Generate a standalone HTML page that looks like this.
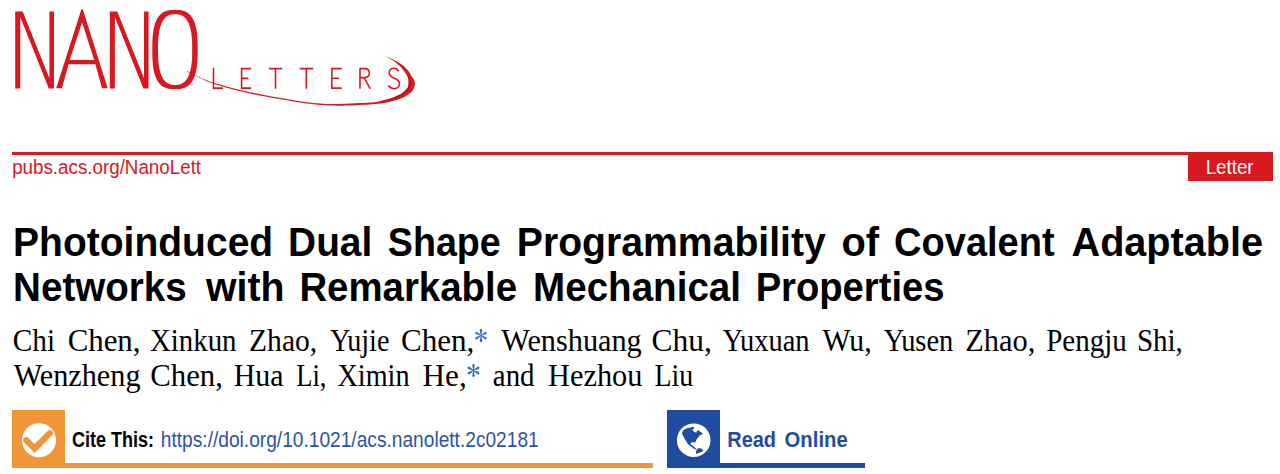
<!DOCTYPE html>
<html><head><meta charset="utf-8">
<style>
html,body{margin:0;padding:0;background:#fff;width:1280px;height:474px;overflow:hidden}
svg{position:absolute;left:0;top:0}
</style></head><body>
<svg width="1280" height="474" viewBox="0 0 1280 474">
<g fill="#d71920">
<path d="M15.2 11.6H22.7L49.4 78.2V11.6H54V88.4H48.8L20.3 17.3V88.4H15.2Z"/>
<path d="M109.8 11.6H117.3L144 78.2V11.6H148.6V88.4H143.4L114.9 17.3V88.4H109.8Z"/>
<path fill-rule="evenodd" d="M56.2 88.2L81.4 9.3H82.8L107.7 88.2H102L95.4 64.2H68.6L61.9 88.2Z M69.7 60H94.2L82.1 22.6Z"/>
<path fill-rule="evenodd" d="M197.70 49.50 L197.69 53.42 L197.65 55.93 L197.59 58.08 L197.50 60.02 L197.39 61.82 L197.25 63.51 L197.09 65.10 L196.90 66.62 L196.69 68.06 L196.45 69.44 L196.19 70.76 L195.90 72.03 L195.59 73.24 L195.26 74.41 L194.90 75.52 L194.51 76.59 L194.10 77.62 L193.67 78.59 L193.21 79.53 L192.72 80.42 L192.21 81.26 L191.68 82.06 L191.12 82.82 L190.53 83.54 L189.92 84.21 L189.28 84.84 L188.61 85.42 L187.91 85.97 L187.19 86.47 L186.43 86.92 L185.64 87.34 L184.81 87.71 L183.94 88.03 L183.03 88.32 L182.06 88.55 L181.03 88.75 L179.92 88.90 L178.69 89.01 L177.25 89.08 L175.00 89.10 L172.75 89.08 L171.31 89.01 L170.08 88.90 L168.97 88.75 L167.94 88.55 L166.97 88.32 L166.06 88.03 L165.19 87.71 L164.36 87.34 L163.57 86.92 L162.81 86.47 L162.09 85.97 L161.39 85.42 L160.72 84.84 L160.08 84.21 L159.47 83.54 L158.88 82.82 L158.32 82.06 L157.79 81.26 L157.28 80.42 L156.79 79.53 L156.33 78.59 L155.90 77.62 L155.49 76.59 L155.10 75.52 L154.74 74.41 L154.41 73.24 L154.10 72.03 L153.81 70.76 L153.55 69.44 L153.31 68.06 L153.10 66.62 L152.91 65.10 L152.75 63.51 L152.61 61.82 L152.50 60.02 L152.41 58.08 L152.35 55.93 L152.31 53.42 L152.30 49.50 L152.31 45.58 L152.35 43.07 L152.41 40.92 L152.50 38.98 L152.61 37.18 L152.75 35.49 L152.91 33.90 L153.10 32.38 L153.31 30.94 L153.55 29.56 L153.81 28.24 L154.10 26.97 L154.41 25.76 L154.74 24.59 L155.10 23.48 L155.49 22.41 L155.90 21.38 L156.33 20.41 L156.79 19.47 L157.28 18.58 L157.79 17.74 L158.32 16.94 L158.88 16.18 L159.47 15.46 L160.08 14.79 L160.72 14.16 L161.39 13.58 L162.09 13.03 L162.81 12.53 L163.57 12.08 L164.36 11.66 L165.19 11.29 L166.06 10.97 L166.97 10.68 L167.94 10.45 L168.97 10.25 L170.08 10.10 L171.31 9.99 L172.75 9.92 L175.00 9.90 L177.25 9.92 L178.69 9.99 L179.92 10.10 L181.03 10.25 L182.06 10.45 L183.03 10.68 L183.94 10.97 L184.81 11.29 L185.64 11.66 L186.43 12.08 L187.19 12.53 L187.91 13.03 L188.61 13.58 L189.28 14.16 L189.92 14.79 L190.53 15.46 L191.12 16.18 L191.68 16.94 L192.21 17.74 L192.72 18.58 L193.21 19.47 L193.67 20.41 L194.10 21.38 L194.51 22.41 L194.90 23.48 L195.26 24.59 L195.59 25.76 L195.90 26.97 L196.19 28.24 L196.45 29.56 L196.69 30.94 L196.90 32.38 L197.09 33.90 L197.25 35.49 L197.39 37.18 L197.50 38.98 L197.59 40.92 L197.65 43.07 L197.69 45.58Z M192.20 49.55 L192.19 52.48 L192.16 54.54 L192.11 56.36 L192.04 58.03 L191.95 59.61 L191.84 61.09 L191.70 62.51 L191.55 63.87 L191.38 65.18 L191.19 66.43 L190.98 67.64 L190.75 68.81 L190.50 69.93 L190.23 71.01 L189.94 72.04 L189.63 73.04 L189.30 74.00 L188.95 74.91 L188.58 75.79 L188.20 76.63 L187.79 77.43 L187.37 78.18 L186.93 78.90 L186.46 79.58 L185.98 80.22 L185.48 80.82 L184.96 81.38 L184.42 81.90 L183.85 82.37 L183.27 82.81 L182.66 83.21 L182.03 83.56 L181.37 83.87 L180.68 84.15 L179.96 84.38 L179.20 84.56 L178.39 84.71 L177.51 84.82 L176.52 84.88 L175.10 84.90 L173.68 84.88 L172.69 84.82 L171.81 84.71 L171.00 84.56 L170.24 84.38 L169.52 84.15 L168.83 83.87 L168.17 83.56 L167.54 83.21 L166.93 82.81 L166.35 82.37 L165.78 81.90 L165.24 81.38 L164.72 80.82 L164.22 80.22 L163.74 79.58 L163.27 78.90 L162.83 78.18 L162.41 77.43 L162.00 76.63 L161.62 75.79 L161.25 74.91 L160.90 74.00 L160.57 73.04 L160.26 72.04 L159.97 71.01 L159.70 69.93 L159.45 68.81 L159.22 67.64 L159.01 66.43 L158.82 65.18 L158.65 63.87 L158.50 62.51 L158.36 61.09 L158.25 59.61 L158.16 58.03 L158.09 56.36 L158.04 54.54 L158.01 52.48 L158.00 49.55 L158.01 46.62 L158.04 44.56 L158.09 42.74 L158.16 41.07 L158.25 39.49 L158.36 38.01 L158.50 36.59 L158.65 35.23 L158.82 33.92 L159.01 32.67 L159.22 31.46 L159.45 30.29 L159.70 29.17 L159.97 28.09 L160.26 27.06 L160.57 26.06 L160.90 25.10 L161.25 24.19 L161.62 23.31 L162.00 22.47 L162.41 21.67 L162.83 20.92 L163.27 20.20 L163.74 19.52 L164.22 18.88 L164.72 18.28 L165.24 17.72 L165.78 17.20 L166.35 16.73 L166.93 16.29 L167.54 15.89 L168.17 15.54 L168.83 15.23 L169.52 14.95 L170.24 14.72 L171.00 14.54 L171.81 14.39 L172.69 14.28 L173.68 14.22 L175.10 14.20 L176.52 14.22 L177.51 14.28 L178.39 14.39 L179.20 14.54 L179.96 14.72 L180.68 14.95 L181.37 15.23 L182.03 15.54 L182.66 15.89 L183.27 16.29 L183.85 16.73 L184.42 17.20 L184.96 17.72 L185.48 18.28 L185.98 18.88 L186.46 19.52 L186.93 20.20 L187.37 20.92 L187.79 21.67 L188.20 22.47 L188.58 23.31 L188.95 24.19 L189.30 25.10 L189.63 26.06 L189.94 27.06 L190.23 28.09 L190.50 29.17 L190.75 30.29 L190.98 31.46 L191.19 32.67 L191.38 33.92 L191.55 35.23 L191.70 36.59 L191.84 38.01 L191.95 39.49 L192.04 41.07 L192.11 42.74 L192.16 44.56 L192.19 46.62Z"/>
<path d="M186.5 71.2 C187.9 71.9 190.6 73.5 195.0 75.6 C199.4 77.6 203.8 80.5 213.0 83.5 C222.2 86.5 235.5 90.3 250.0 93.5 C264.5 96.7 286.7 100.6 300.0 102.6 C313.3 104.6 320.8 105.2 330.0 105.6 C339.2 106.0 348.6 105.4 355.3 105.2 C362.0 105.0 365.8 104.9 370.0 104.6 C374.2 104.3 377.0 104.0 380.5 103.5 C384.0 103.0 387.6 102.3 391.1 101.4 C394.6 100.5 398.6 99.4 401.6 98.2 C404.6 97.0 407.1 95.4 409.0 94.0 C410.9 92.6 412.2 91.4 413.2 89.8 C414.2 88.2 414.6 86.1 414.8 84.5 C415.0 82.9 414.9 81.7 414.3 80.3 C413.8 78.9 412.5 77.6 411.5 76.0 C410.5 74.4 409.8 72.6 408.3 70.8 C406.8 69.0 404.8 66.8 402.3 64.9 C399.8 63.0 396.0 60.9 393.2 59.5 C390.4 58.1 386.6 56.8 385.3 56.3 L385.3 56.3 C386.6 57.0 390.5 58.9 393.0 60.6 C395.5 62.3 398.2 64.6 400.2 66.6 C402.2 68.5 403.5 70.5 404.8 72.3 C406.1 74.1 407.3 76.0 407.9 77.5 C408.5 79.0 408.5 79.9 408.5 81.4 C408.5 82.9 408.6 85.0 408.0 86.6 C407.4 88.2 406.4 89.5 404.8 90.9 C403.2 92.3 401.1 93.8 398.5 95.1 C395.9 96.4 392.4 97.8 389.0 98.8 C385.6 99.8 381.6 100.8 378.4 101.4 C375.2 102.0 373.9 102.2 370.0 102.5 C366.1 102.8 362.0 103.0 355.3 103.3 C348.6 103.5 339.2 104.3 330.0 104.0 C320.8 103.7 313.3 103.2 300.0 101.2 C286.7 99.2 264.5 95.3 250.0 92.2 C235.5 89.1 222.2 85.3 213.0 82.4 C203.8 79.5 199.4 76.8 195.0 74.9 C190.6 73.0 187.9 71.5 186.5 70.8 Z"/>
<path fill="#a81a20" d="M405.7 71.6 C406.3 72.5 408.5 75.4 409.3 77.0 C410.2 78.6 410.6 79.6 410.7 81.4 C410.8 83.1 410.9 85.6 410.1 87.4 C409.4 89.3 408.1 91.0 406.3 92.5 C404.5 94.1 402.2 95.6 399.3 96.8 C396.5 98.0 392.6 99.2 389.4 100.0 C386.2 100.8 381.7 101.4 380.1 101.7 L380.1 101.5 C381.6 101.1 386.0 100.1 389.1 99.1 C392.2 98.1 396.0 96.7 398.6 95.4 C401.3 94.0 403.4 92.6 405.0 91.1 C406.6 89.7 407.6 88.3 408.3 86.7 C408.9 85.1 408.8 82.9 408.8 81.4 C408.8 79.8 408.7 79.0 408.2 77.4 C407.6 75.8 405.9 72.6 405.5 71.7Z"/>
</g>
<g fill="none" stroke="#d71920" stroke-width="1.6">
<path d="M213.5 67.8V88.1H223.1"/>
<path d="M251.1 68.6H241.6V88.1H251.2 M241.6 78.4H248.4"/>
<path d="M268.9 68.6H282.2 M275.5 68.6V88.8"/>
<path d="M299.7 68.6H313.2 M306.3 68.6V88.8"/>
<path d="M341.8 68.6H331.9V88.1H341.8 M331.9 78.2H339"/>
<path d="M360 88.8V68.6H364.3C367.5 68.6 369.4 70.5 369.4 73.1C369.4 75.8 367.5 77.6 364.3 77.6H360 M364 77.6L370.3 88.8"/>
<path d="M398.6 71.3C397.5 69.3 396 68.3 393.9 68.3C391 68.3 389.2 70.3 389.2 73C389.2 79 399.5 77.5 399.5 83.5C399.5 86.6 397.3 88.7 394.1 88.7C391.6 88.7 389.7 87.4 388.5 85.3"/>
</g>
<rect x="12" y="152" width="1261" height="3" fill="#d71920"/>
<path d="M1188 152H1271A2 2 0 0 1 1273 154V181H1188Z" fill="#d71920"/>
<rect x="12" y="410" width="53" height="58" fill="#ef9639"/>
<rect x="12" y="463" width="641" height="5" fill="#ef9639"/>
<circle cx="39" cy="440.3" r="17" fill="#fff"/>
<path d="M26.3 440.2L34.6 448.5L49.8 433.3" fill="none" stroke="#ef9639" stroke-width="6.2" stroke-linecap="round" stroke-linejoin="miter"/>
<rect x="667" y="410" width="53" height="58" fill="#1f4c9f"/>
<rect x="667" y="463" width="198" height="5" fill="#1f4c9f"/>
<g transform="translate(672 418)">
<circle cx="21.7" cy="22.2" r="16.8" fill="#fff"/>
<path fill="#1f4c9f" d="M10.07 14.63 L11.21 12.35 L13.11 11.21 L15.39 10.07 L18.43 9.69 L20.10 8.78 L22.22 9.32 L21.84 10.83 L20.32 11.59 L21.08 13.11 L22.98 14.25 L24.35 14.78 L25.11 12.20 L26.78 12.58 L28.30 13.72 L30.96 15.39 L29.82 16.53 L27.92 17.29 L26.78 18.81 L25.26 20.32 L24.12 22.22 L23.59 24.35 L22.22 24.50 L20.32 23.89 L19.03 24.65 L18.58 26.40 L20.10 27.23 L21.69 28.45 L22.98 29.82 L24.35 31.03 L23.36 31.49 L21.31 30.35 L19.03 28.45 L17.06 27.16 L15.24 24.88 L13.72 22.60 L12.20 20.32 L11.06 18.05 L10.30 16.15Z M24.65 31.49 L26.78 30.04 L29.21 30.42 L31.49 32.47 L29.97 33.76 L26.78 34.90 L24.35 36.04 L23.89 34.37Z"/>
</g>
<g fill="#2a6db8">
<g transform="translate(481 335.6)"><path d="M-0.3 0L-1.2 -5.3A1.2 1.2 0 0 1 1.2 -5.3L0.3 0Z" transform="rotate(0)"/><path d="M-0.3 0L-1.2 -5.3A1.2 1.2 0 0 1 1.2 -5.3L0.3 0Z" transform="rotate(60)"/><path d="M-0.3 0L-1.2 -5.3A1.2 1.2 0 0 1 1.2 -5.3L0.3 0Z" transform="rotate(120)"/><path d="M-0.3 0L-1.2 -5.3A1.2 1.2 0 0 1 1.2 -5.3L0.3 0Z" transform="rotate(180)"/><path d="M-0.3 0L-1.2 -5.3A1.2 1.2 0 0 1 1.2 -5.3L0.3 0Z" transform="rotate(240)"/><path d="M-0.3 0L-1.2 -5.3A1.2 1.2 0 0 1 1.2 -5.3L0.3 0Z" transform="rotate(300)"/></g>
<g transform="translate(473.5 370.5)"><path d="M-0.3 0L-1.2 -5.3A1.2 1.2 0 0 1 1.2 -5.3L0.3 0Z" transform="rotate(0)"/><path d="M-0.3 0L-1.2 -5.3A1.2 1.2 0 0 1 1.2 -5.3L0.3 0Z" transform="rotate(60)"/><path d="M-0.3 0L-1.2 -5.3A1.2 1.2 0 0 1 1.2 -5.3L0.3 0Z" transform="rotate(120)"/><path d="M-0.3 0L-1.2 -5.3A1.2 1.2 0 0 1 1.2 -5.3L0.3 0Z" transform="rotate(180)"/><path d="M-0.3 0L-1.2 -5.3A1.2 1.2 0 0 1 1.2 -5.3L0.3 0Z" transform="rotate(240)"/><path d="M-0.3 0L-1.2 -5.3A1.2 1.2 0 0 1 1.2 -5.3L0.3 0Z" transform="rotate(300)"/></g>
</g>
<text x="12.16" y="174.1" font-family="&quot;Liberation Sans&quot;" font-weight="normal" font-size="20" fill="#d71920" textLength="188.92" lengthAdjust="spacingAndGlyphs">pubs.acs.org/NanoLett</text>
<text x="1205.64" y="174.0" font-family="&quot;Liberation Sans&quot;" font-weight="normal" font-size="19.5" fill="#fff" textLength="47.97" lengthAdjust="spacingAndGlyphs">Letter</text>
<text x="13.10" y="255.9" font-family="&quot;Liberation Sans&quot;" font-weight="bold" font-size="41" fill="#000" textLength="260.10" lengthAdjust="spacingAndGlyphs">Photoinduced</text>
<text x="288.11" y="255.9" font-family="&quot;Liberation Sans&quot;" font-weight="bold" font-size="41" fill="#000" textLength="84.16" lengthAdjust="spacingAndGlyphs">Dual</text>
<text x="387.83" y="255.9" font-family="&quot;Liberation Sans&quot;" font-weight="bold" font-size="41" fill="#000" textLength="112.90" lengthAdjust="spacingAndGlyphs">Shape</text>
<text x="516.84" y="255.9" font-family="&quot;Liberation Sans&quot;" font-weight="bold" font-size="41" fill="#000" textLength="308.97" lengthAdjust="spacingAndGlyphs">Programmability</text>
<text x="841.53" y="255.9" font-family="&quot;Liberation Sans&quot;" font-weight="bold" font-size="41" fill="#000" textLength="37.64" lengthAdjust="spacingAndGlyphs">of</text>
<text x="894.07" y="255.9" font-family="&quot;Liberation Sans&quot;" font-weight="bold" font-size="41" fill="#000" textLength="160.61" lengthAdjust="spacingAndGlyphs">Covalent</text>
<text x="1071.53" y="255.9" font-family="&quot;Liberation Sans&quot;" font-weight="bold" font-size="41" fill="#000" textLength="191.54" lengthAdjust="spacingAndGlyphs">Adaptable</text>
<text x="13.12" y="300.8" font-family="&quot;Liberation Sans&quot;" font-weight="bold" font-size="41" fill="#000" textLength="173.64" lengthAdjust="spacingAndGlyphs">Networks</text>
<text x="205.96" y="300.8" font-family="&quot;Liberation Sans&quot;" font-weight="bold" font-size="41" fill="#000" textLength="78.50" lengthAdjust="spacingAndGlyphs">with</text>
<text x="299.38" y="300.8" font-family="&quot;Liberation Sans&quot;" font-weight="bold" font-size="41" fill="#000" textLength="217.62" lengthAdjust="spacingAndGlyphs">Remarkable</text>
<text x="533.12" y="300.8" font-family="&quot;Liberation Sans&quot;" font-weight="bold" font-size="41" fill="#000" textLength="207.88" lengthAdjust="spacingAndGlyphs">Mechanical</text>
<text x="755.64" y="300.8" font-family="&quot;Liberation Sans&quot;" font-weight="bold" font-size="41" fill="#000" textLength="188.86" lengthAdjust="spacingAndGlyphs">Properties</text>
<text x="12.80" y="351.0" font-family="&quot;Liberation Serif&quot;" font-weight="normal" font-size="31" fill="#000" textLength="42.33" lengthAdjust="spacingAndGlyphs">Chi</text>
<text x="67.76" y="351.0" font-family="&quot;Liberation Serif&quot;" font-weight="normal" font-size="31" fill="#000" textLength="72.73" lengthAdjust="spacingAndGlyphs">Chen,</text>
<text x="150.00" y="351.0" font-family="&quot;Liberation Serif&quot;" font-weight="normal" font-size="31" fill="#000" textLength="86.53" lengthAdjust="spacingAndGlyphs">Xinkun</text>
<text x="249.05" y="351.0" font-family="&quot;Liberation Serif&quot;" font-weight="normal" font-size="31" fill="#000" textLength="68.12" lengthAdjust="spacingAndGlyphs">Zhao,</text>
<text x="330.00" y="351.0" font-family="&quot;Liberation Serif&quot;" font-weight="normal" font-size="31" fill="#000" textLength="59.44" lengthAdjust="spacingAndGlyphs">Yujie</text>
<text x="401.00" y="351.0" font-family="&quot;Liberation Serif&quot;" font-weight="normal" font-size="31" fill="#000" textLength="73.25" lengthAdjust="spacingAndGlyphs">Chen,</text>
<text x="501.25" y="351.0" font-family="&quot;Liberation Serif&quot;" font-weight="normal" font-size="31" fill="#000" textLength="140.49" lengthAdjust="spacingAndGlyphs">Wenshuang</text>
<text x="651.49" y="351.0" font-family="&quot;Liberation Serif&quot;" font-weight="normal" font-size="31" fill="#000" textLength="60.29" lengthAdjust="spacingAndGlyphs">Chu,</text>
<text x="722.50" y="351.0" font-family="&quot;Liberation Serif&quot;" font-weight="normal" font-size="31" fill="#000" textLength="87.04" lengthAdjust="spacingAndGlyphs">Yuxuan</text>
<text x="822.50" y="351.0" font-family="&quot;Liberation Serif&quot;" font-weight="normal" font-size="31" fill="#000" textLength="49.18" lengthAdjust="spacingAndGlyphs">Wu,</text>
<text x="883.75" y="351.0" font-family="&quot;Liberation Serif&quot;" font-weight="normal" font-size="31" fill="#000" textLength="69.54" lengthAdjust="spacingAndGlyphs">Yusen</text>
<text x="965.27" y="351.0" font-family="&quot;Liberation Serif&quot;" font-weight="normal" font-size="31" fill="#000" textLength="70.20" lengthAdjust="spacingAndGlyphs">Zhao,</text>
<text x="1046.25" y="351.0" font-family="&quot;Liberation Serif&quot;" font-weight="normal" font-size="31" fill="#000" textLength="80.47" lengthAdjust="spacingAndGlyphs">Pengju</text>
<text x="1136.88" y="351.0" font-family="&quot;Liberation Serif&quot;" font-weight="normal" font-size="31" fill="#000" textLength="46.01" lengthAdjust="spacingAndGlyphs">Shi,</text>
<text x="13.75" y="385.5" font-family="&quot;Liberation Serif&quot;" font-weight="normal" font-size="31" fill="#000" textLength="126.74" lengthAdjust="spacingAndGlyphs">Wenzheng</text>
<text x="150.26" y="385.5" font-family="&quot;Liberation Serif&quot;" font-weight="normal" font-size="31" fill="#000" textLength="72.73" lengthAdjust="spacingAndGlyphs">Chen,</text>
<text x="233.75" y="385.5" font-family="&quot;Liberation Serif&quot;" font-weight="normal" font-size="31" fill="#000" textLength="49.77" lengthAdjust="spacingAndGlyphs">Hua</text>
<text x="296.25" y="385.5" font-family="&quot;Liberation Serif&quot;" font-weight="normal" font-size="31" fill="#000" textLength="30.25" lengthAdjust="spacingAndGlyphs">Li,</text>
<text x="337.50" y="385.5" font-family="&quot;Liberation Serif&quot;" font-weight="normal" font-size="31" fill="#000" textLength="72.05" lengthAdjust="spacingAndGlyphs">Ximin</text>
<text x="422.50" y="385.5" font-family="&quot;Liberation Serif&quot;" font-weight="normal" font-size="31" fill="#000" textLength="44.26" lengthAdjust="spacingAndGlyphs">He,</text>
<text x="492.82" y="385.5" font-family="&quot;Liberation Serif&quot;" font-weight="normal" font-size="31" fill="#000" textLength="41.72" lengthAdjust="spacingAndGlyphs">and</text>
<text x="548.10" y="385.5" font-family="&quot;Liberation Serif&quot;" font-weight="normal" font-size="31" fill="#000" textLength="94.29" lengthAdjust="spacingAndGlyphs">Hezhou</text>
<text x="654.40" y="385.5" font-family="&quot;Liberation Serif&quot;" font-weight="normal" font-size="31" fill="#000" textLength="38.75" lengthAdjust="spacingAndGlyphs">Liu</text>
<text x="72.00" y="446.9" font-family="&quot;Liberation Sans&quot;" font-weight="bold" font-size="22" fill="#000" textLength="81.98" lengthAdjust="spacingAndGlyphs">Cite This:</text>
<text x="160.83" y="447.0" font-family="&quot;Liberation Sans&quot;" font-weight="normal" font-size="22" fill="#2a55a6" textLength="377.88" lengthAdjust="spacingAndGlyphs">https://doi.org/10.1021/acs.nanolett.2c02181</text>
<text x="727.29" y="446.9" font-family="&quot;Liberation Sans&quot;" font-weight="bold" font-size="22" fill="#1f4c9f" textLength="48.71" lengthAdjust="spacingAndGlyphs">Read</text>
<text x="784.60" y="446.9" font-family="&quot;Liberation Sans&quot;" font-weight="bold" font-size="22" fill="#1f4c9f" textLength="63.12" lengthAdjust="spacingAndGlyphs">Online</text>
</svg>
</body></html>
